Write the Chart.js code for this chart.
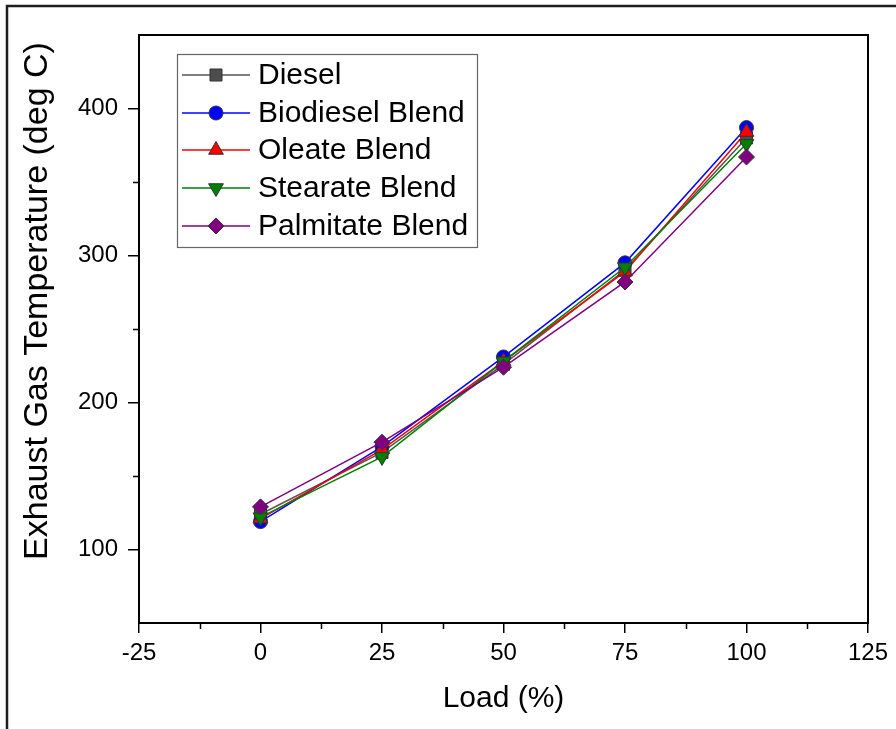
<!DOCTYPE html>
<html>
<head>
<meta charset="utf-8">
<script src="https://cdn.jsdelivr.net/npm/chart.js@4/dist/chart.umd.min.js"></script>
<style>
  html, body { margin: 0; padding: 0; background: #fff; }
  canvas { display: block; }
</style>
</head>
<body>
<canvas id="c" width="896" height="729"></canvas>
<script>
// Engine load steps (%)
const loads = [0, 25, 50, 75, 100];

// Exhaust gas temperature (deg C) per fuel
const diesel    = [124, 166, 226, 290, 380];
const biodiesel = [119, 170, 231, 295, 387];
const oleate    = [121, 168, 228, 289, 384];
const stearate  = [122, 163, 228, 292, 376];
const palmitate = [129, 173, 224, 282, 367];

const seriesNames = ['Diesel', 'Biodiesel Blend', 'Oleate Blend', 'Stearate Blend', 'Palmitate Blend'];
const yTitle = 'Exhaust Gas Temperature (deg C)';

// Axis tick values
const xTicks = [-25, 0, 25, 50, 75, 100, 125];
const yTicks = [100, 200, 300, 400];
const xMinorTicks = [-12.5, 12.5, 37.5, 62.5, 87.5, 112.5];
const yMinorTicks = [150, 250, 350];

const FONT = "'Liberation Sans', Arial, sans-serif";

const styles = [
  { line: '#555555', fill: '#4d4d4d', pointStyle: 'rect',     radius: 8.5, rotation: 0 },
  { line: '#0000ff', fill: '#0000ff', pointStyle: 'circle',   radius: 7,   rotation: 0 },
  { line: '#ff0000', fill: '#ff0000', pointStyle: 'triangle', radius: 8.5, rotation: 0 },
  { line: '#008000', fill: '#008000', pointStyle: 'triangle', radius: 8.5, rotation: 180 },
  { line: '#800080', fill: '#800080', pointStyle: 'rectRot',  radius: 8,   rotation: 0 }
];

const seriesValues = [diesel, biodiesel, oleate, stearate, palmitate];

const datasets = seriesValues.map((vals, i) => ({
  label: seriesNames[i],
  data: loads.map((x, j) => ({ x: x, y: vals[j] })),
  borderColor: styles[i].line,
  backgroundColor: styles[i].fill,
  borderWidth: 1.5,
  pointStyle: styles[i].pointStyle,
  pointRadius: styles[i].radius,
  pointRotation: styles[i].rotation,
  pointBackgroundColor: styles[i].fill,
  pointBorderColor: '#333333',
  pointBorderWidth: 1,
  tension: 0,
  order: seriesValues.length - i
}));

function markerAt(ctx, st, x, y) {
  ctx.fillStyle = st.fill;
  ctx.strokeStyle = '#333333';
  ctx.lineWidth = 1;
  Chart.helpers.drawPoint(ctx, {
    pointStyle: st.pointStyle, radius: st.radius, rotation: st.rotation, borderWidth: 1
  }, x, y);
}

const decorPlugin = {
  id: 'decor',
  beforeDraw(chart) {
    const ctx = chart.ctx;
    ctx.save();
    ctx.fillStyle = '#fff';
    ctx.fillRect(0, 0, chart.width, chart.height);
    ctx.restore();
  },
  afterDraw(chart) {
    const { ctx, chartArea: a, scales } = chart;
    ctx.save();

    // outer figure frame (left and top edges)
    ctx.strokeStyle = '#1e1e1e';
    ctx.lineWidth = 2.5;
    ctx.beginPath();
    ctx.moveTo(7, chart.height);
    ctx.lineTo(7, 6);
    ctx.lineTo(chart.width, 6);
    ctx.stroke();

    // plot box
    ctx.strokeStyle = '#000';
    ctx.lineWidth = 2;
    ctx.strokeRect(a.left, a.top, a.right - a.left, a.bottom - a.top);

    // minor ticks
    ctx.lineWidth = 1.5;
    ctx.beginPath();
    xMinorTicks.forEach(v => {
      const px = Math.round(scales.x.getPixelForValue(v)) + 0.5;
      ctx.moveTo(px, a.bottom);
      ctx.lineTo(px, a.bottom + 6);
    });
    yMinorTicks.forEach(v => {
      const py = Math.round(scales.y.getPixelForValue(v)) + 0.5;
      ctx.moveTo(a.left, py);
      ctx.lineTo(a.left - 6, py);
    });
    ctx.stroke();

    // vertical axis title
    ctx.save();
    ctx.translate(38, 301);
    ctx.rotate(-Math.PI / 2);
    ctx.font = '34px ' + FONT;
    ctx.fillStyle = '#000';
    ctx.textAlign = 'center';
    ctx.textBaseline = 'middle';
    ctx.fillText(yTitle, 0, 0);
    ctx.restore();

    // legend
    const lx = 177, ly = 54, lw = 300, lh = 193;
    ctx.fillStyle = '#fff';
    ctx.fillRect(lx, ly, lw, lh);
    ctx.strokeStyle = '#666';
    ctx.lineWidth = 1.2;
    ctx.strokeRect(lx + 0.5, ly + 0.5, lw, lh);
    const rowY = [75, 113, 150, 188, 226];
    ctx.font = '30px ' + FONT;
    ctx.textBaseline = 'middle';
    ctx.textAlign = 'left';
    seriesNames.forEach((name, i) => {
      const st = styles[i];
      const y = rowY[i];
      ctx.strokeStyle = st.line;
      ctx.lineWidth = 1.5;
      ctx.beginPath();
      ctx.moveTo(182, y);
      ctx.lineTo(250, y);
      ctx.stroke();
      markerAt(ctx, st, 216, y);
      ctx.fillStyle = '#000';
      ctx.fillText(name, 258, y + 1);
    });

    ctx.restore();
  }
};

new Chart(document.getElementById('c'), {
  type: 'line',
  data: { datasets: datasets },
  plugins: [decorPlugin],
  options: {
    responsive: false,
    animation: false,
    devicePixelRatio: 1,
    layout: { padding: { left: 0, top: 35, right: 28, bottom: 0 } },
    plugins: {
      legend: { display: false },
      tooltip: { enabled: false }
    },
    scales: {
      x: {
        type: 'linear',
        min: -25,
        max: 125,
        afterBuildTicks: s => { s.ticks = xTicks.map(v => ({ value: v })); },
        afterFit: s => { s.height = 106; },
        border: { display: true, color: '#000', width: 2 },
        grid: { display: true, drawOnChartArea: false, drawTicks: true, tickLength: 10, color: '#000', lineWidth: 1.5 },
        ticks: { color: '#000', padding: 6, font: { family: FONT, size: 24 }, maxRotation: 0 },
        title: { display: true, text: 'Load (%)', color: '#000', font: { family: FONT, size: 30 }, padding: { top: 0, bottom: 12 } }
      },
      y: {
        type: 'linear',
        min: 50,
        max: 450,
        afterBuildTicks: s => { s.ticks = yTicks.map(v => ({ value: v })); },
        afterFit: s => { s.width = 139; },
        border: { display: true, color: '#000', width: 2 },
        grid: { display: true, drawOnChartArea: false, drawTicks: true, tickLength: 11, color: '#000', lineWidth: 1.5 },
        ticks: { color: '#000', padding: 10, font: { family: FONT, size: 24 } },
        title: { display: false }
      }
    }
  }
});
</script>
</body>
</html>
